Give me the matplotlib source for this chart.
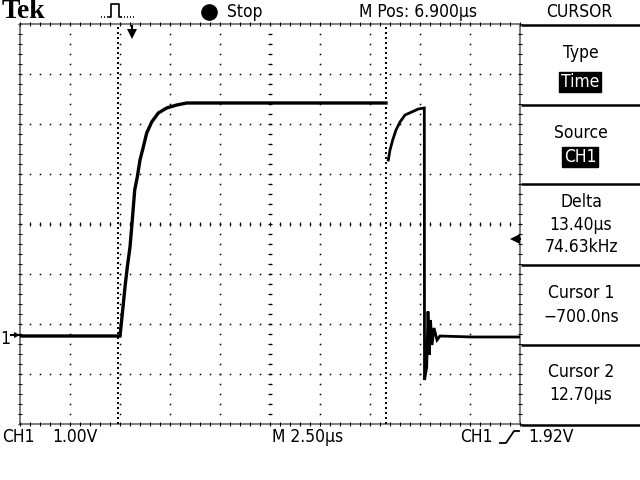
import numpy as np
import matplotlib
matplotlib.use("Agg")
import matplotlib.pyplot as plt

# scope settings shown on screen
sec_per_div = 2.5      # us / div
volt_per_div = 1.0     # V / div
m_pos = 6.9            # us at the screen centre
ground_div = 1.78      # CH1 ground marker, divisions above bottom
cursor_1 = -0.7        # us
cursor_2 = 12.7        # us
trig_level = 1.92      # V
trig_time = 0.0        # us

# CH1 trace, first piece (us, V)
t_rise = [-5.6, -3.0, -0.6, -0.465, -0.35, -0.235, -0.1, 0.015, 0.135, 0.265,
          0.4, 0.565, 0.735, 0.985, 1.315, 1.735, 2.235, 2.735, 7.0, 12.7]
v_rise = [-0.02, -0.02, -0.02, 0.5, 0.96, 1.36, 1.76, 2.3, 2.9, 3.16,
          3.5, 3.76, 4.04, 4.26, 4.44, 4.54, 4.6, 4.64, 4.64, 4.64]

# CH1 trace, second piece after cursor 2 (us, V)
t_fall = [12.815, 12.9, 13.035, 13.2, 13.4, 13.65, 13.985, 14.315, 14.615,
          14.625, 14.735, 14.8, 14.865, 14.925, 15.0, 15.1, 15.25, 15.4, 17.0, 19.4]
v_fall = [3.5, 3.7, 3.9, 4.1, 4.26, 4.4, 4.46, 4.52, 4.54,
          -0.9, -0.64, 0.47, -0.4, 0.3, -0.2, 0.14, -0.1, -0.02, -0.04, -0.04]

# right hand menu
menu_title = "CURSOR"
menu_items = [("Type", "Time"), ("Source", "CH1"),
              ("Delta", "13.40µs", "74.63kHz"),
              ("Cursor 1", "−700.0ns"), ("Cursor 2", "12.70µs")]

narrow = ["DejaVu Sans"]
fs = 12.5

fig = plt.figure(figsize=(6.4, 4.8), dpi=100)
fig.patch.set_facecolor("white")

# overlay in screen pixels for the text areas
ov = fig.add_axes([0, 0, 1, 1])
ov.set_xlim(0, 640)
ov.set_ylim(480, 0)
ov.axis("off")
ov.patch.set_visible(False)


def label(x, y, s, ha="left", **kw):
    return ov.text(x, y, s, fontsize=fs, family=narrow, stretch="condensed",
                   va="center", ha=ha, **kw)


# waveform area
x0, x1 = m_pos - 5 * sec_per_div, m_pos + 5 * sec_per_div
y0, y1 = -ground_div * volt_per_div, (8 - ground_div) * volt_per_div
ax = fig.add_axes([20 / 640, 56 / 480, 500 / 640, 400 / 480])
ax.set_xlim(x0, x1)
ax.set_ylim(y0, y1)
ax.axis("off")
ax.patch.set_visible(False)

# graticule dots
xs_fine = np.arange(x0, x1 + 1e-6, sec_per_div / 5)
ys_fine = np.arange(y0, y1 + 1e-6, volt_per_div / 5)
for k in range(1, 8):
    yv = y0 + k * volt_per_div
    ax.plot(xs_fine, np.full_like(xs_fine, yv), "s", ms=1.1, color="k", mew=0)
for k in range(1, 10):
    xv = x0 + k * sec_per_div
    ax.plot(np.full_like(ys_fine, xv), ys_fine, "s", ms=1.1, color="k", mew=0)
# centre axis ticks
xc, yc = m_pos, y0 + 4 * volt_per_div
ax.plot(xs_fine, np.full_like(xs_fine, yc), "|", ms=3, mew=0.8, color="k")
ax.plot(np.full_like(ys_fine, xc), ys_fine, "_", ms=3, mew=0.8, color="k")
# border
for xv in (x0, x1):
    ax.plot([xv, xv], [y0, y1], color="0.45", lw=1.3, clip_on=False)
    ax.plot(np.full_like(ys_fine, xv), ys_fine, "_", ms=3, mew=0.8,
            color="k", clip_on=False)
for yv in (y0, y1):
    ax.plot([x0, x1], [yv, yv], color="0.45", lw=1.3, clip_on=False)
    ax.plot(xs_fine, np.full_like(xs_fine, yv), "|", ms=3, mew=0.8,
            color="k", clip_on=False)

# cursors
for c in (cursor_1, cursor_2):
    ax.axvline(c, color="k", lw=1.44, ls=(0, (1, 1.5)))

# trace
ax.plot(t_rise, v_rise, color="k", lw=2.4, solid_joinstyle="miter")
ax.plot(t_fall, v_fall, color="k", lw=2.0, solid_joinstyle="miter")

# trigger position marker (top) and trigger level marker (right)
ax.plot([trig_time], [y1 - 0.2], "v", ms=7, color="k", mew=0)
ax.plot([trig_time, trig_time], [y1 - 0.05, y1 - 0.2], color="k", lw=1.5)
ax.plot([x1 - 0.25], [trig_level], "<", ms=7, color="k", mew=0, clip_on=False)
ax.plot([x1 - 0.35, x1], [trig_level, trig_level], color="k", lw=1.5, clip_on=False)

# ground marker for CH1
ax.plot([x0 - 0.15], [0.0], ">", ms=5, color="k", mew=0, clip_on=False)
ax.plot([x0 - 0.45, x0], [0.0, 0.0], color="k", lw=1.5, clip_on=False)
label(0, 339, "1")

# top bar
ov.text(2, 12, "Tek", fontsize=20, family=["Liberation Serif", "DejaVu Serif"],
        weight="bold", va="center", ha="left")
ov.plot([101, 109], [17, 17], ls=(0, (0.6, 1.2)), color="k", lw=1.2)
ov.plot([109, 111, 111, 119, 119, 121], [17, 17, 4, 4, 17, 17], color="k", lw=1.2)
ov.plot([121, 135], [17, 17], ls=(0, (0.6, 1.2)), color="k", lw=1.2)
ov.plot([209], [12], "o", ms=12, color="k", mew=0)
label(227, 12, "Stop")
label(359, 12, "M Pos: 6.900µs")
label(579, 12, menu_title, ha="center")

# right menu boxes
box_edges = [25, 105, 184, 265, 345, 425]
for yb in box_edges:
    ov.plot([521, 640], [yb, yb], color="k", lw=1.8, solid_capstyle="butt")

text_rows = [(53, 82), (133, 157), (202, 225, 247), (293, 317), (372, 395)]
for item, rows in zip(menu_items, text_rows):
    for i, (txt, yy) in enumerate(zip(item, rows)):
        if i == 1 and len(item) == 2 and txt in ("Time", "CH1"):
            label(580, yy, txt, ha="center", color="white",
                  bbox=dict(boxstyle="square,pad=0.08", fc="k", ec="k"))
        else:
            label(581, yy, txt, ha="center")

# bottom bar
label(2, 437, "CH1")
label(52, 437, "1.00V")
label(272, 437, "M 2.50µs")
label(460, 437, "CH1")
ov.plot([500, 506, 514, 519], [443, 443, 431, 431], color="k", lw=1.3)
label(528, 437, "1.92V")

fig.savefig("out.png", dpi=100, facecolor="white")
